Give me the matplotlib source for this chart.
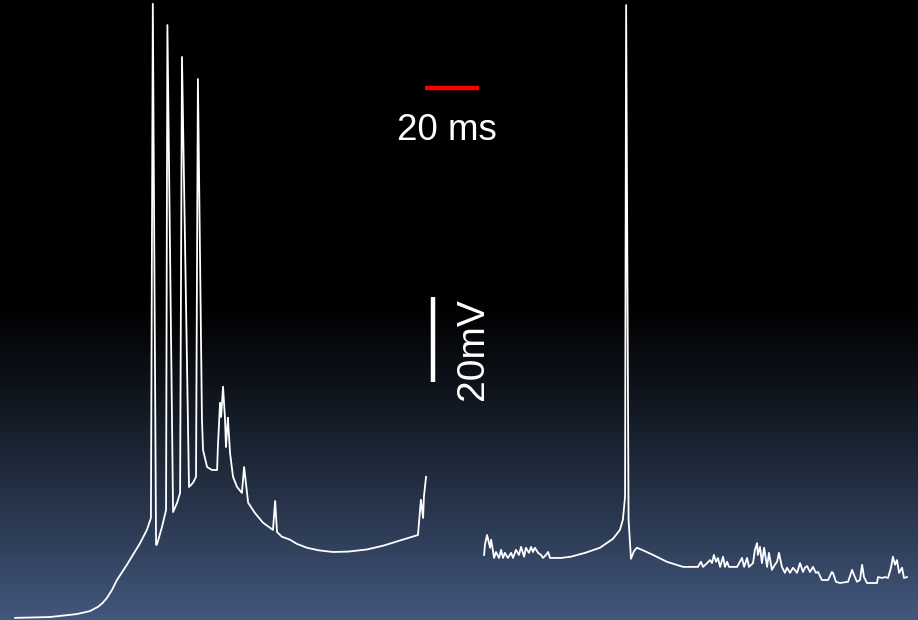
import matplotlib
matplotlib.use('Agg')
import matplotlib.pyplot as plt
import numpy as np

plt.rcParams['font.family'] = ['Liberation Sans', 'DejaVu Sans']

# membrane potential trace, burst part (time ms, voltage mV)
burst_t = [5.6, 18.5, 28.5, 33.3, 36.3, 38.0, 39.6, 41.5, 43.3, 47.0, 51.9, 54.4, 55.9,
           56.6, 57.8, 58.1, 60.0, 61.5,
           62.0, 64.1, 65.6, 66.7,
           67.4, 70.0, 71.5, 72.6,
           73.3, 74.8, 75.2, 76.7, 78.5, 80.4, 80.7, 81.5, 81.9, 82.6, 83.3,
           83.7, 84.1, 84.4, 85.2, 86.3, 87.8, 89.6, 90.4, 91.5, 91.9, 94.4,
           97.4, 101.1, 101.9, 102.6, 104.4, 107.4, 110.0, 113.7, 118.0, 123.3,
           129.0, 135.9, 142.0, 148.1, 154.8, 155.9, 156.7, 157.0, 157.8]
burst_v = [-70.0, -69.8, -69.1, -68.4, -67.4, -66.5, -65.3, -63.4, -61.1, -57.5, -52.4, -49.3, -46.5,
           74.5, -52.8, -52.8, -48.6, -44.6,
           69.5, -45.1, -42.9, -40.6,
           62.0, -39.2, -38.2, -36.8,
           56.8, -23.4, -30.5, -34.5, -35.2, -35.2, -29.8, -19.4, -22.7, -15.6, -22.7,
           -29.8, -25.8, -22.9, -31.2, -36.8, -39.2, -40.6, -34.5, -40.6, -42.9, -45.3,
           -47.6, -49.3, -42.5, -49.8, -50.9, -51.6, -52.6, -53.5, -54.1, -54.5,
           -54.4, -53.9, -53.0, -51.8, -50.5, -42.2, -46.5, -41.5, -36.8]

# second part with single spike
single_t = [179.3, 179.6, 180.4, 181.5, 181.9, 183.0, 183.7, 184.8, 185.6, 186.3,
            187.0, 188.1, 189.3, 190.0, 191.1, 192.2, 193.0, 194.1, 194.8, 195.9,
            196.7, 197.4, 198.1, 199.3, 200.4, 201.1, 202.2, 203.0, 203.7, 207.8,
            211.5, 216.7, 222.2, 227.0, 229.6, 230.7, 231.5, 231.9, 232.8, 233.7,
            234.8, 235.9, 237.8, 241.9, 247.0, 253.0, 258.5, 259.6, 260.4, 261.9, 263.0,
            263.7, 264.4, 265.2, 265.9, 266.7, 267.8, 268.5, 269.3, 270.0, 273.0,
            274.8, 275.6, 276.7, 277.4, 278.9, 279.6, 280.4, 280.7, 281.5, 282.2,
            283.0, 284.1, 284.8, 285.9, 287.0, 287.8, 288.5, 289.6, 290.7, 291.5,
            292.6, 293.7, 295.2, 296.3, 297.4, 298.1, 298.9, 300.0, 301.1, 302.2,
            303.0, 304.4, 306.7, 308.1, 308.5, 309.6, 311.1, 314.1, 315.6, 316.3,
            317.4, 318.5, 319.3, 320.0, 321.1, 324.8, 325.2, 326.7, 327.8, 328.9,
            330.0, 330.7, 331.5, 332.2, 333.0, 334.1, 334.8, 335.9]
single_v = [-55.2, -52.8, -50.5, -53.5, -51.6, -55.9, -54.5, -55.9, -54.0, -55.9,
            -54.7, -55.9, -54.7, -55.9, -54.0, -55.2, -53.3, -55.6, -53.5, -54.7,
            -53.3, -54.5, -53.5, -54.7, -55.2, -55.9, -55.2, -54.5, -55.9, -55.9,
            -55.6, -54.7, -53.5, -51.4, -49.3, -46.9, -41.5, 74.2, -46.9, -56.1,
            -54.3, -53.5, -54.0, -55.2, -56.8, -58.0, -58.0, -56.8, -58.0, -57.1, -56.4,
            -57.1, -55.2, -56.8, -55.9, -58.0, -55.6, -58.0, -56.8, -58.0, -58.0,
            -55.9, -58.0, -55.9, -58.0, -57.1, -54.0, -52.4, -55.2, -53.3, -57.1,
            -53.5, -58.0, -54.7, -58.7, -57.5, -56.8, -54.7, -58.0, -59.4, -58.2,
            -59.4, -58.2, -59.4, -57.1, -59.2, -58.2, -57.8, -59.2, -58.0, -59.4,
            -59.2, -61.1, -61.1, -59.2, -59.4, -61.5, -61.8, -61.5, -58.7, -59.9,
            -61.5, -61.1, -57.5, -60.4, -61.8, -61.8, -60.4, -60.6, -60.4, -60.6,
            -58.2, -55.6, -57.5, -56.4, -59.4, -58.2, -60.6, -60.4]

# scale bars
bar_ms = 20
bar_mv = 20

fig = plt.figure(figsize=(9.18, 6.2), dpi=100)
ax = fig.add_axes([0, 0, 1, 1])

# background: black top, fades to slate blue at the bottom
h = 620
grad = np.zeros((h, 1, 3))
top_col = np.array([0, 0, 0])
bot_col = np.array([66, 88, 125]) / 255.0
for i in range(h):
    f = (i - 300) / (h - 300)
    f = min(max(f, 0), 1) ** 1.15
    grad[i, 0] = top_col + (bot_col - top_col) * f
ax.imshow(grad, extent=[0, 340, -70.5, 75.4], aspect='auto', origin='upper', zorder=0)

ax.plot(burst_t, burst_v, color='white', lw=1.3, zorder=2)
ax.plot(single_t, single_v, color='white', lw=1.3, zorder=2)

# time scale bar (red) and voltage bar (white)
ax.plot([157.4, 157.4 + bar_ms], [54.7, 54.7], color='#ff0000', lw=3.2,
        solid_capstyle='butt', zorder=3)
ax.text(165.5, 44.8, '20 ms', color='white', fontsize=26.5, ha='center', va='center')
ax.plot([160.4, 160.4], [-14.5, -14.5 + bar_mv], color='white', lw=3.2,
        solid_capstyle='butt', zorder=3)
ax.text(175.0, -6.8, '20mV', color='white', fontsize=28, rotation=90,
        ha='center', va='center')

ax.set_xlim(0, 340)
ax.set_ylim(-70.5, 75.4)
ax.axis('off')

plt.savefig('out.png', dpi=100)
